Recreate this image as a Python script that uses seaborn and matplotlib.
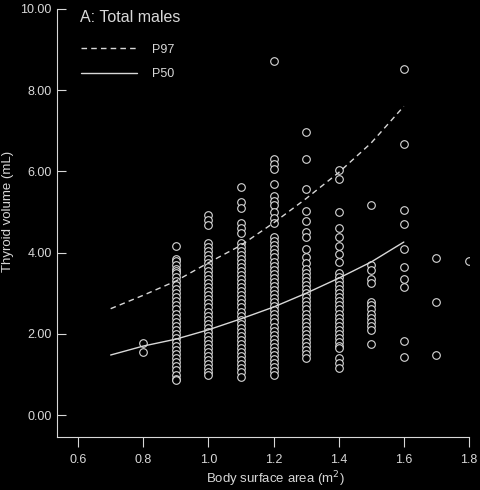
import numpy as np
import pandas as pd
import seaborn as sns
import matplotlib.pyplot as plt

# --- data ---
bsa_08 = [1.77, 1.55]
bsa_09 = [4.16, 3.84, 3.79, 3.7, 3.6, 3.55, 3.5, 3.4, 3.3, 3.2, 3.1, 3.0, 2.9, 2.8, 2.7,
          2.6, 2.5, 2.4, 2.3, 2.2, 2.1, 2.0, 1.9, 1.8, 1.7, 1.6, 1.5, 1.4, 1.3, 1.2,
          1.1, 1.0, 0.9, 0.86]
bsa_10 = [4.93, 4.80, 4.68, 4.24, 4.15, 4.05, 3.95, 3.85, 3.75, 3.65, 3.55, 3.45, 3.35,
          3.25, 3.15, 3.05, 2.95, 2.85, 2.75, 2.65, 2.55, 2.45, 2.35, 2.25, 2.15, 2.05,
          1.95, 1.85, 1.75, 1.65, 1.55, 1.45, 1.35, 1.25, 1.15, 1.05, 0.98]
bsa_11 = [5.62, 5.25, 5.10, 4.73, 4.60, 4.48, 4.24, 4.15, 4.05, 3.95, 3.85, 3.75, 3.65,
          3.55, 3.45, 3.35, 3.25, 3.15, 3.05, 2.95, 2.85, 2.75, 2.65, 2.55, 2.45, 2.35,
          2.25, 2.15, 2.05, 1.95, 1.85, 1.75, 1.65, 1.55, 1.45, 1.35, 1.25, 1.15, 1.05,
          0.94]
bsa_12 = [8.72, 6.30, 6.18, 6.06, 5.70, 5.39, 5.27, 5.17, 5.00, 4.85, 4.73, 4.38, 4.28,
          4.18, 4.08, 3.98, 3.88, 3.78, 3.68, 3.58, 3.48, 3.38, 3.28, 3.18, 3.08, 2.98,
          2.88, 2.78, 2.68, 2.58, 2.48, 2.38, 2.28, 2.18, 2.08, 1.98, 1.88, 1.78, 1.68,
          1.58, 1.48, 1.38, 1.28, 1.18, 1.08, 0.98]
bsa_13 = [6.97, 6.30, 5.57, 5.02, 4.78, 4.50, 4.38, 4.10, 3.90, 3.74, 3.6, 3.5, 3.4, 3.3,
          3.2, 3.1, 3.0, 2.9, 2.8, 2.7, 2.6, 2.5, 2.4, 2.3, 2.2, 2.1, 2.0, 1.9, 1.8,
          1.7, 1.6, 1.5, 1.4]
bsa_14 = [6.03, 5.81, 5.00, 4.60, 4.38, 4.16, 3.97, 3.77, 3.50, 3.4, 3.3, 3.2, 3.1, 3.0,
          2.9, 2.8, 2.7, 2.6, 2.5, 2.4, 2.3, 2.2, 2.1, 2.0, 1.9, 1.8, 1.7, 1.65, 1.40,
          1.28, 1.16]
bsa_15 = [5.17, 3.69, 3.57, 3.35, 3.25, 2.78, 2.70, 2.60, 2.50, 2.40, 2.30, 2.20, 2.10, 1.75]
bsa_16 = [8.52, 6.67, 5.05, 4.70, 4.09, 3.64, 3.35, 3.15, 1.82, 1.43]
bsa_17 = [3.87, 2.78, 1.48]
bsa_18 = [3.79]

columns = {0.8: bsa_08, 0.9: bsa_09, 1.0: bsa_10, 1.1: bsa_11, 1.2: bsa_12, 1.3: bsa_13,
           1.4: bsa_14, 1.5: bsa_15, 1.6: bsa_16, 1.7: bsa_17, 1.8: bsa_18}

curve_x = [0.7, 0.8, 0.9, 1.0, 1.1, 1.2, 1.3, 1.4, 1.5, 1.6]
p97 = [2.62, 2.95, 3.30, 3.75, 4.18, 4.73, 5.33, 5.97, 6.70, 7.60]
p50 = [1.48, 1.70, 1.87, 2.10, 2.37, 2.66, 3.00, 3.37, 3.77, 4.26]

x_ticks = [0.6, 0.8, 1.0, 1.2, 1.4, 1.6, 1.8]
y_ticks = [0.0, 2.0, 4.0, 6.0, 8.0, 10.0]

points = pd.DataFrame(
    [(bsa, v) for bsa, vals in columns.items() for v in vals],
    columns=["bsa", "volume"],
)

# --- style: light marks on a black page ---
fg = "#d8d8d8"
sns.set_theme(style="ticks")
plt.rcParams.update({
    "figure.facecolor": "black",
    "axes.facecolor": "black",
    "axes.edgecolor": fg,
    "axes.labelcolor": fg,
    "xtick.color": fg,
    "ytick.color": fg,
    "text.color": fg,
    "axes.linewidth": 0.8,
})
plt.rcParams["font.family"] = ["Liberation Sans", "DejaVu Sans"]

fig = plt.figure(figsize=(4.8, 4.9), dpi=100)
ax = fig.add_axes([0.119, 0.108, 0.858, 0.874])

sns.scatterplot(data=points, x="bsa", y="volume", ax=ax, s=30, marker="o",
                facecolor="black", edgecolor=fg, linewidth=0.8, zorder=2)
sns.lineplot(x=curve_x, y=p97, ax=ax, color=fg, linewidth=1.0,
             linestyle=(0, (4, 3)), label="P97", zorder=3)
sns.lineplot(x=curve_x, y=p50, ax=ax, color=fg, linewidth=1.0,
             label="P50", zorder=3)

ax.set_xlim(0.5356, 1.8)
ax.set_ylim(-0.54, 10.0)
ax.set_xticks(x_ticks)
ax.set_xticklabels([f"{t:.1f}" for t in x_ticks], fontsize=9)
ax.set_yticks(y_ticks)
ax.set_yticklabels([f"{t:.2f}" for t in y_ticks], fontsize=9)
ax.tick_params(axis="x", direction="out", length=7, width=0.8, pad=5)
ax.tick_params(axis="y", direction="in", length=6.5, width=0.8, pad=4)
sns.despine(ax=ax)

ax.set_xlabel("Body surface area (m$^2$)", fontsize=9.5)
ax.xaxis.set_label_coords(0.53, -0.076)
ax.set_ylabel("Thyroid volume (mL)", fontsize=9.5)
ax.yaxis.set_label_coords(-0.104, 0.528)
ax.text(0.056, 0.997, "A: Total males", transform=ax.transAxes, fontsize=11.5,
        ha="left", va="top")

leg = ax.legend(loc="upper left", bbox_to_anchor=(0.03, 0.945), frameon=False,
                fontsize=9, handlelength=4.5, handletextpad=1.2, labelspacing=1.0)
for t in leg.get_texts():
    t.set_color(fg)

fig.savefig("out.png", dpi=100, facecolor="black")
